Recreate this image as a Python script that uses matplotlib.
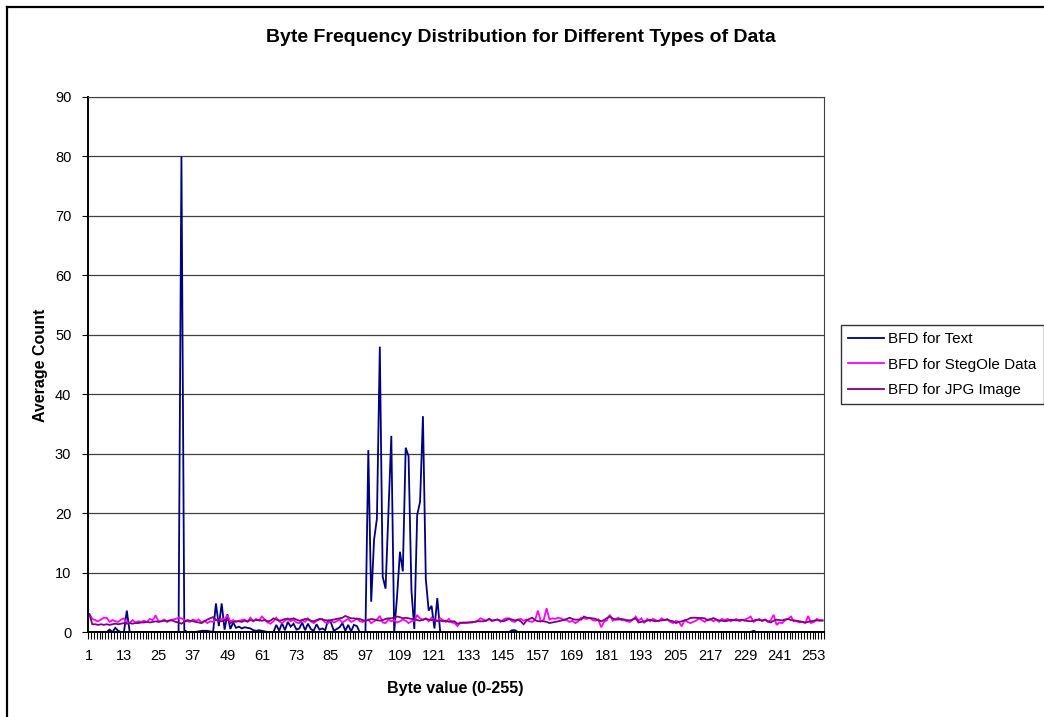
import numpy as np
import matplotlib
matplotlib.use("Agg")
import matplotlib.pyplot as plt
from matplotlib.lines import Line2D

plt.rcParams['font.family'] = ['Liberation Sans', 'DejaVu Sans']

#==================================================================================================#
# data: average count for each byte value, categories 1..256
#==================================================================================================#

byte_pos = list(range(1, 257))
tick_labels = [str(v) for v in range(1, 257, 12)]
series_names = ["BFD for Text", "BFD for StegOle Data", "BFD for JPG Image"]

text_bfd = [
    0, 0, 0, 0, 0, 0, 0, 0.4, 0, 0.7, 0.2, 0, 0, 3.6, 0, 0,
    0, 0, 0, 0, 0, 0, 0, 0, 0, 0, 0, 0, 0, 0, 0, 0,
    80, 0.3, 0, 0, 0, 0, 0.1, 0.2, 0.2, 0.2, 0.1, 0, 4.8, 1.0, 4.8, 0.4,
    3.0, 0.5, 1.6, 0.7, 0.9, 0.6, 0.8, 0.7, 0.6, 0.3, 0.2, 0.3, 0.2, 0.1, 0, 0,
    0, 1.2, 0.2, 1.5, 0.3, 1.7, 0.9, 1.4, 0.4, 0.6, 1.6, 0.3, 1.4, 0.5, 0.2, 1.3,
    0.4, 0.6, 0.3, 2.0, 1.6, 0.2, 0.5, 0.8, 1.5, 0.2, 1.2, 0.1, 1.2, 1.0, 0, 0,
    0, 30.6, 5.1, 15.5, 19.1, 48, 9.3, 7.3, 20, 33, 0, 6, 13.5, 10.2, 31, 29.6,
    7, 0.5, 19.7, 21.9, 36.3, 8.9, 3.6, 4.4, 0.6, 5.7, 0, 0, 0, 0, 0, 0,
    0, 0, 0, 0, 0, 0, 0, 0, 0, 0, 0, 0, 0, 0, 0, 0,
    0, 0, 0, 0.3, 0.3, 0, 0, 0, 0, 0, 0, 0, 0, 0, 0, 0,
    0, 0, 0, 0, 0, 0, 0, 0, 0, 0, 0, 0, 0, 0, 0, 0,
    0, 0, 0, 0, 0, 0, 0, 0, 0, 0, 0, 0, 0, 0, 0, 0,
    0, 0, 0, 0, 0, 0, 0, 0, 0, 0, 0, 0, 0, 0, 0, 0,
    0, 0, 0, 0, 0, 0, 0, 0, 0, 0, 0, 0, 0, 0, 0, 0,
    0, 0, 0, 0, 0, 0, 0, 0.2, 0, 0, 0, 0, 0, 0, 0, 0,
    0, 0, 0, 0, 0, 0, 0, 0, 0, 0, 0, 0, 0, 0, 0, 0,
]

stegole_bfd = [
    3.0, 2.2, 2.0, 1.8, 2.1, 2.4, 2.4, 1.7, 2.0, 1.8, 1.7, 2.1, 2.3, 1.6, 1.5, 2.0,
    1.6, 1.8, 1.7, 1.9, 1.7, 2.2, 2.0, 2.8, 1.8, 1.8, 2.1, 1.7, 1.9, 2.1, 2.2, 2.4,
    2.3, 2.0, 1.8, 1.7, 2.1, 1.9, 2.1, 1.6, 1.9, 1.5, 1.8, 1.7, 2.1, 1.9, 2.2, 2.2,
    2.8, 1.8, 2.0, 1.7, 1.9, 2.0, 2.1, 1.7, 2.4, 1.8, 2.2, 1.9, 2.6, 2.1, 1.6, 1.4,
    1.8, 2.4, 1.8, 1.5, 1.9, 2.3, 1.8, 2.1, 1.6, 1.5, 2.0, 1.7, 2.3, 1.8, 1.5, 1.9,
    2.1, 2.2, 1.6, 1.5, 2.0, 1.6, 1.8, 2.1, 1.6, 1.9, 2.2, 1.7, 1.9, 2.3, 1.8, 1.7,
    1.9, 2.1, 1.5, 1.8, 2.1, 2.7, 1.6, 1.5, 2.1, 1.8, 2.0, 1.6, 1.8, 2.1, 1.9, 1.5,
    1.8, 1.9, 2.8, 2.3, 2.0, 2.3, 1.8, 2.4, 2.0, 1.8, 2.3, 2.0, 1.7, 2.2, 1.6, 1.5,
    1.0, 1.6, 1.5, 1.5, 1.6, 1.7, 1.7, 1.9, 2.3, 2.1, 1.9, 2.2, 1.8, 2.0, 2.1, 1.7,
    2.1, 2.3, 2.3, 1.8, 1.7, 2.1, 2.2, 1.9, 2.1, 1.8, 1.7, 2.0, 3.6, 1.8, 2.0, 4.0,
    2.1, 2.3, 2.2, 2.4, 2.3, 2.0, 2.0, 1.7, 1.9, 1.5, 1.8, 2.4, 2.3, 2.2, 2.4, 2.0,
    1.9, 2.1, 0.8, 1.7, 2.0, 2.9, 1.9, 2.2, 2.4, 2.0, 2.0, 1.8, 1.7, 2.1, 2.6, 1.9,
    2.3, 1.5, 2.2, 1.8, 2.2, 2.0, 1.8, 2.3, 2.0, 2.2, 1.7, 1.5, 1.9, 1.7, 0.95, 2.0,
    1.7, 1.5, 1.7, 1.9, 2.3, 2.0, 1.7, 2.1, 2.2, 1.8, 2.1, 1.7, 2.2, 2.0, 2.2, 1.8,
    2.0, 2.2, 1.8, 2.0, 2.1, 2.3, 2.6, 1.7, 2.0, 2.2, 1.8, 2.1, 1.7, 2.0, 2.9, 1.2,
    1.6, 1.5, 2.0, 2.2, 2.6, 1.8, 1.8, 1.6, 1.7, 1.5, 2.7, 1.5, 1.7, 2.2, 2.0, 2.0,
]

jpg_bfd = [
    3.0, 1.3, 1.3, 1.2, 1.3, 1.2, 1.3, 1.2, 1.3, 1.4, 1.3, 1.4, 1.5, 1.4, 1.5, 1.4,
    1.5, 1.5, 1.6, 1.6, 1.7, 1.6, 1.7, 1.8, 1.7, 1.8, 1.9, 1.8, 2.0, 1.9, 1.7, 1.6,
    1.4, 1.7, 2.0, 1.9, 1.8, 1.7, 1.6, 1.5, 1.8, 2.1, 2.3, 2.5, 2.0, 1.9, 1.8, 2.0,
    2.1, 1.5, 1.7, 1.8, 1.8, 1.7, 1.9, 1.8, 2.0, 1.9, 2.0, 2.0, 1.9, 2.0, 1.8, 1.9,
    2.3, 2.1, 1.9, 2.0, 2.2, 2.1, 2.2, 2.3, 2.1, 1.9, 2.0, 2.2, 2.1, 1.9, 1.8, 2.0,
    2.2, 2.1, 2.0, 1.9, 2.0, 2.1, 2.2, 2.3, 2.4, 2.7, 2.5, 2.3, 2.3, 2.2, 2.2, 2.0,
    1.9, 2.0, 2.2, 2.1, 2.0, 1.9, 2.0, 2.2, 2.3, 2.3, 2.4, 2.6, 2.5, 2.3, 2.4, 2.3,
    2.2, 2.1, 2.0, 1.9, 2.1, 2.2, 2.1, 2.0, 2.1, 1.9, 1.9, 1.8, 1.9, 1.7, 1.8, 1.8,
    1.4, 1.5, 1.6, 1.6, 1.6, 1.6, 1.7, 1.8, 1.8, 1.8, 1.9, 2.2, 1.95, 2.0, 2.1, 1.9,
    1.8, 2.0, 2.2, 2.1, 1.95, 2.07, 1.8, 1.3, 1.9, 2.2, 2.4, 2.0, 1.8, 1.8, 1.8, 1.7,
    1.5, 1.6, 1.7, 1.8, 1.9, 2.07, 2.2, 2.4, 2.2, 2.07, 2.1, 2.07, 2.6, 2.4, 2.35, 2.3,
    2.2, 2.0, 1.8, 2.0, 2.35, 2.6, 2.3, 2.07, 2.1, 2.2, 2.1, 2.0, 1.95, 2.1, 2.3, 1.6,
    1.7, 1.8, 1.9, 2.07, 1.9, 1.8, 1.9, 1.95, 2.0, 2.07, 1.9, 1.8, 1.5, 1.7, 1.8, 1.95,
    2.1, 2.35, 2.4, 2.4, 2.35, 2.35, 2.3, 1.95, 2.1, 2.35, 2.1, 1.95, 1.9, 1.8, 1.9, 2.07,
    2.0, 1.95, 2.0, 2.07, 1.9, 1.85, 1.8, 1.9, 2.07, 2.0, 1.95, 2.07, 1.8, 1.6, 1.9, 2.07,
    2.0, 1.95, 2.1, 2.2, 2.0, 1.95, 1.9, 1.8, 1.7, 1.6, 1.7, 1.8, 1.9, 1.95, 1.9, 1.9,
]

#==================================================================================================#

W, H = 1044, 717
fig = plt.figure(figsize=(W / 100, H / 100), dpi=100)
fig.patch.set_facecolor("white")

# outer chart border (top and left visible, the rest runs off the picture)
fig.add_artist(Line2D([7 / W, 7 / W], [0, 1 - 7 / H], transform=fig.transFigure, color="black", lw=1.6))
fig.add_artist(Line2D([7 / W, 1], [1 - 7 / H, 1 - 7 / H], transform=fig.transFigure, color="black", lw=1.6))

left, right, top, bottom = 88, 824, 97, 632
ax = fig.add_axes([left / W, 1 - bottom / H, (right - left) / W, (bottom - top) / H])

colors = ["#000080", "#FF00FF", "#800080"]
for vals, name, c in zip([text_bfd, stegole_bfd, jpg_bfd], series_names, colors):
    ax.plot(byte_pos, vals, color=c, lw=1.3, label=name, solid_joinstyle="miter")

ax.set_xlim(0.5, 256.5)
ax.set_ylim(0, 90)
ax.set_yticks(range(0, 91, 10))
ax.yaxis.grid(True, color="#404040", lw=0.9)
ax.set_axisbelow(True)

ax.set_xticks(list(range(1, 257, 12)))
ax.set_xticklabels(tick_labels)
ax.set_xticks(np.arange(0.5, 257, 1), minor=True)
ax.tick_params(axis="x", which="major", length=0, labelsize=10.5, pad=12)
ax.tick_params(axis="x", which="minor", length=5, width=0.8, direction="out")
ax.tick_params(axis="y", length=4, width=0.8, labelsize=10.5, pad=8)

ax.spines["left"].set_linewidth(1.4)
ax.spines["bottom"].set_linewidth(1.4)
ax.spines["top"].set_color("#404040")
ax.spines["right"].set_color("#404040")

fig.text(521 / W, 1 - 37 / H, "Byte Frequency Distribution for Different Types of Data",
         ha="center", va="center", fontsize=14, fontweight="bold")
fig.text(455 / W, 1 - 689 / H, "Byte value (0-255)", ha="center", va="center",
         fontsize=11.5, fontweight="bold")
fig.text(40 / W, 1 - 365 / H, "Average Count", ha="center", va="center",
         fontsize=11.5, fontweight="bold", rotation=90)

leg = ax.legend(loc="lower left", bbox_to_anchor=(841 / W, 1 - 404 / H),
                bbox_transform=fig.transFigure, frameon=True, fancybox=False,
                edgecolor="black", fontsize=11, handlelength=2.35, handletextpad=0.3,
                borderpad=0.45, labelspacing=0.75, borderaxespad=0)
leg.get_frame().set_linewidth(1.0)

fig.savefig("out.png", dpi=100)
